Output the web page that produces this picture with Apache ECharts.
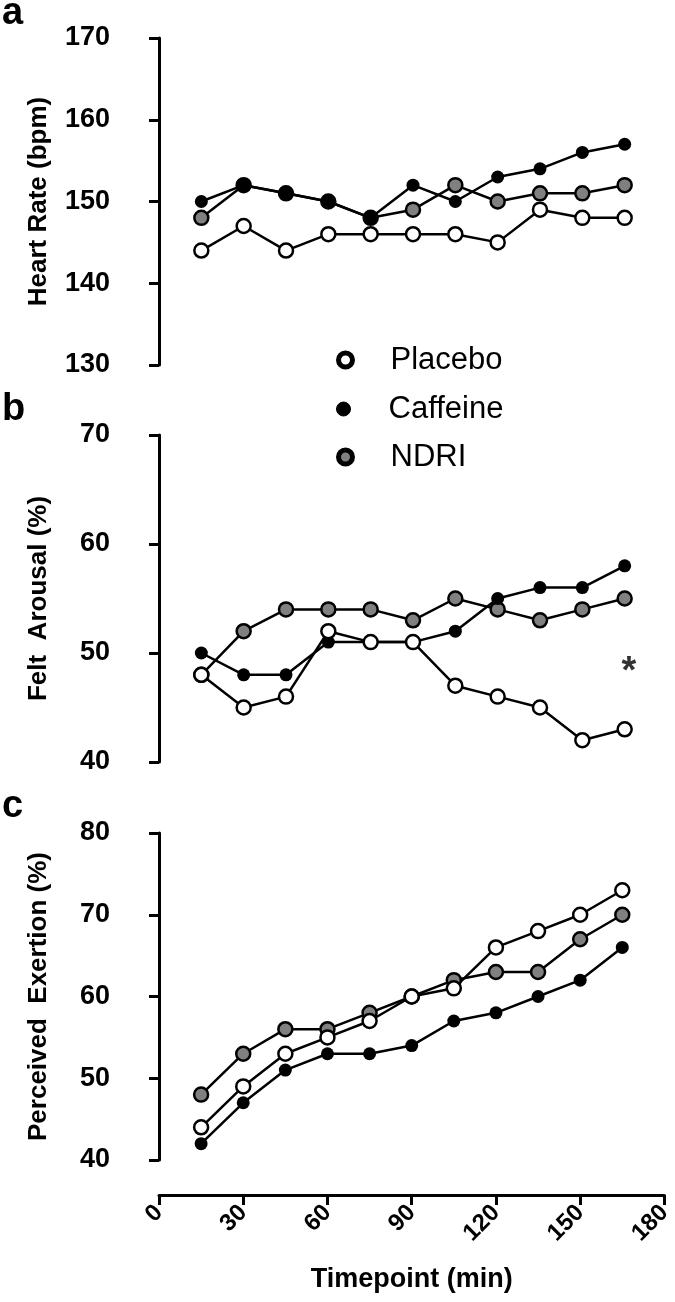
<!DOCTYPE html>
<html>
<head>
<meta charset="utf-8">
<script src="https://cdn.jsdelivr.net/npm/echarts@6/dist/echarts.min.js"></script>
<style>
html,body{margin:0;padding:0;background:#fff;}
#chart{width:675px;height:1302px;}
</style>
</head>
<body>
<div id="chart"></div>
<script>
// ---- data ----
var timepoints = [15, 30, 45, 60, 75, 90, 105, 120, 135, 150, 165];
var xTicks = [0, 30, 60, 90, 120, 150, 180];

var hrPlacebo  = [144, 147, 144, 146, 146, 146, 146, 145, 149, 148, 148];
var hrCaffeine = [150, 152, 151, 150, 148, 152, 150, 153, 154, 156, 157];
var hrNDRI     = [148, 152, 151, 150, 148, 149, 152, 150, 151, 151, 152];

var faPlacebo  = [48, 45, 46, 52, 51, 51, 47, 46, 45, 42, 43];
var faCaffeine = [50, 48, 48, 51, 51, 51, 52, 55, 56, 56, 58];
var faNDRI     = [48, 52, 54, 54, 54, 53, 55, 54, 53, 54, 55];

var pePlacebo  = [44, 49, 53, 55, 57, 60, 61, 66, 68, 70, 73];
var peCaffeine = [42, 47, 51, 53, 53, 54, 57, 58, 60, 62, 66];
var peNDRI     = [48, 53, 56, 56, 58, 60, 62, 63, 63, 67, 70];

var sigMarks = [[166.5, 49]]; // asterisk in panel b

var panelTitles = ['Heart Rate (bpm)', 'Felt  Arousal (%)', 'Perceived  Exertion (%)'];
var panelLetters = ['a', 'b', 'c'];
var yRanges = [[130, 170], [40, 70], [40, 80]];
var xTitle = 'Timepoint (min)';

// ---- chart ----
var FONT = "'Liberation Sans', Arial, Helvetica, sans-serif";
function pairs(vals) { return timepoints.map(function (t, i) { return [t, vals[i]]; }); }

var gridTops = [38, 435, 833];
var gridH = 327;
var grids = gridTops.map(function (t) { return { left: 159, width: 508, top: t, height: gridH }; });

var xAxes = gridTops.map(function (t, i) {
  var last = i === 2;
  return {
    gridIndex: i, type: 'value', min: xTicks[0], max: xTicks[xTicks.length - 1], interval: 30,
    show: last, offset: 35,
    name: last ? xTitle : '', nameLocation: 'middle', nameGap: 71,
    nameTextStyle: { fontFamily: FONT, fontWeight: 'bold', fontSize: 27, color: '#000' },
    axisLine: { show: true, lineStyle: { color: '#000', width: 3 } },
    axisTick: { show: true, length: 10, lineStyle: { color: '#000', width: 3 } },
    axisLabel: { rotate: 45, margin: 14, fontFamily: FONT, fontWeight: 'bold', fontSize: 24, color: '#000' },
    splitLine: { show: false }
  };
});

var yAxes = yRanges.map(function (r, i) {
  return {
    gridIndex: i, type: 'value', min: r[0], max: r[1], interval: 10, offset: 35,
    name: panelTitles[i], nameLocation: 'middle', nameGap: 72,
    nameTextStyle: { fontFamily: FONT, fontWeight: 'bold', fontSize: 26, color: '#000' },
    axisLine: { show: true, lineStyle: { color: '#000', width: 3 } },
    axisTick: { show: true, length: 10, lineStyle: { color: '#000', width: 3 } },
    axisLabel: { margin: 14, fontFamily: FONT, fontWeight: 'bold', fontSize: 27, color: '#000' },
    splitLine: { show: false }
  };
});

var styles = {
  'NDRI':     { color: '#808080', borderColor: '#000', borderWidth: 2.5, size: 14 },
  'Caffeine': { color: '#000', borderColor: '#000', borderWidth: 0, size: 13 },
  'Placebo':  { color: '#fff', borderColor: '#000', borderWidth: 2.5, size: 14 }
};

function lineSeries(name, vals, gi) {
  var s = styles[name];
  return {
    name: name, type: 'line', xAxisIndex: gi, yAxisIndex: gi,
    data: pairs(vals), symbol: 'circle', symbolSize: s.size, showSymbol: true,
    lineStyle: { color: '#000', width: 2.5 },
    itemStyle: { color: s.color, borderColor: s.borderColor, borderWidth: s.borderWidth },
    emphasis: { disabled: true }, animation: false
  };
}

var series = [
  lineSeries('NDRI', hrNDRI, 0), lineSeries('Caffeine', hrCaffeine, 0), lineSeries('Placebo', hrPlacebo, 0),
  lineSeries('NDRI', faNDRI, 1), lineSeries('Caffeine', faCaffeine, 1), lineSeries('Placebo', faPlacebo, 1),
  lineSeries('NDRI', peNDRI, 2), lineSeries('Caffeine', peCaffeine, 2), lineSeries('Placebo', pePlacebo, 2),
  {
    name: 'sig', type: 'scatter', xAxisIndex: 1, yAxisIndex: 1, data: sigMarks,
    symbol: 'circle', symbolSize: 1, itemStyle: { color: 'rgba(0,0,0,0)' },
    label: { show: true, formatter: '*', position: 'inside', offset: [0, 9],
      fontFamily: FONT, fontWeight: 'bold', fontSize: 38, color: '#000' },
    animation: false, silent: true
  }
];

var legendRows = [
  { name: 'Placebo', y: 360, itemStyle: { color: '#fff', borderColor: '#000', borderWidth: 5 } },
  { name: 'Caffeine', y: 409, itemStyle: { color: '#000', borderColor: '#000', borderWidth: 1 } },
  { name: 'NDRI', y: 457, itemStyle: { color: '#808080', borderColor: '#000', borderWidth: 5 } }
];
var legends = legendRows.map(function (r) {
  return {
    left: 336, top: r.y - 16, padding: 0, itemWidth: 14, itemHeight: 14, selectedMode: false,
    data: [{ name: r.name, icon: 'circle', itemStyle: r.itemStyle }],
    textStyle: { fontFamily: FONT, fontSize: 31, color: '#000', lineHeight: 32, padding: [0, 0, 0, 33] }
  };
});

var letterY = [14, 410, 807];
var graphics = panelLetters.map(function (l, i) {
  return { type: 'text', left: 2, top: letterY[i] - 19,
    style: { text: l, font: 'bold 38px ' + FONT, fill: '#000' } };
});

var chart = echarts.init(document.getElementById('chart'), null, { renderer: 'canvas' });
chart.setOption({
  backgroundColor: '#fff',
  animation: false,
  grid: grids, xAxis: xAxes, yAxis: yAxes, series: series,
  legend: legends, graphic: graphics
});
</script>
</body>
</html>
